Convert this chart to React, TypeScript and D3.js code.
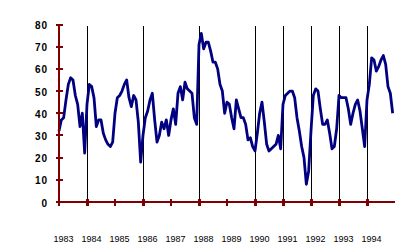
import React from "react";
import * as d3 from "d3";

const startYear = 1983;
const values: number[] = [
  32, 37, 38, 46, 53, 56, 55, 48, 44, 34, 40, 22,
  44, 53, 52, 47, 34, 37, 37, 31, 28, 26, 25, 27,
  40, 47, 48, 50, 53, 55, 47, 43, 48, 46, 36, 18,
  30, 38, 41, 46, 49, 37, 27, 30, 36, 33, 37, 30,
  37, 42, 35, 49, 52, 46, 54, 51, 50, 49, 38, 35,
  71, 76, 69, 72, 72, 68, 63, 63, 60, 53, 50, 40,
  45, 44, 38, 33, 46, 42, 38, 38, 35, 28, 29, 25,
  23, 31, 40, 45, 36, 26, 23, 24, 25, 26, 30, 24,
  44, 48, 49, 50, 50, 47, 38, 32, 25, 20, 8, 14,
  32, 48, 51, 50, 42, 35, 35, 37, 31, 24, 25, 33,
  48, 47, 47, 47, 42, 35, 40, 44, 46, 41, 33, 25,
  46, 53, 65, 64, 59, 61, 64, 66, 62, 52, 49, 40,
];
const yearLabels: string[] = [
  "1983", "1984", "1985", "1986", "1987", "1988",
  "1989", "1990", "1991", "1992", "1993", "1994",
];
const markerYears: number[] = [1984, 1986, 1988, 1990, 1991, 1992, 1993, 1994];
const yTicks: number[] = [0, 10, 20, 30, 40, 50, 60, 70, 80];

export default function App() {
  const W = 420, H = 246;
  const x = d3.scaleLinear().domain([1983, 1995]).range([59, 395]);
  const y = d3.scaleLinear().domain([0, 80]).range([202, 24.5]);
  const line = d3
    .line<number>()
    .x((_, i) => x(startYear + i / 12))
    .y((d) => y(d));
  const red = "#800000";
  const tickYears = yearLabels.map((_, i) => startYear + i);
  return (
    <svg
      width={W}
      height={H}
      style={{ position: "absolute", left: 0, top: 0, background: "#fff" }}
    >
      {markerYears.map((yr) => (
        <line
          key={"m" + yr}
          x1={Math.round(x(yr)) + 0.5}
          x2={Math.round(x(yr)) + 0.5}
          y1={26}
          y2={y(0)}
          stroke="#000"
          strokeWidth={1}
          shapeRendering="crispEdges"
        />
      ))}
      <path d={line(values) || ""} fill="none" stroke="#000080" strokeWidth={2.8} strokeLinejoin="round" />
      <line x1={x(1983)} x2={x(1983)} y1={y(80)} y2={y(0)} stroke={red} strokeWidth={2} shapeRendering="crispEdges" />
      <line x1={x(1983)} x2={x(1995)} y1={y(0)} y2={y(0)} stroke={red} strokeWidth={2} shapeRendering="crispEdges" />
      {yTicks.map((v) => (
        <g key={"y" + v}>
          <line x1={55.5} x2={62.5} y1={y(v)} y2={y(v)} stroke={red} strokeWidth={2} shapeRendering="crispEdges" />
          <text
            x={48}
            y={y(v) + 4.5}
            textAnchor="end"
            fontFamily="Liberation Sans, Arial, sans-serif"
            fontSize={10}
            fontWeight="bold"
            letterSpacing={1}
            fill="#000"
          >
            {v}
          </text>
        </g>
      ))}
      {tickYears.map((yr, i) => (
        <g key={"x" + yr}>
          <line
            x1={x(yr)}
            x2={x(yr)}
            y1={199}
            y2={205.5}
            stroke={red}
            strokeWidth={markerYears.includes(yr) ? 3 : 2}
            shapeRendering="crispEdges"
          />
          <text
            x={x(yr) + 4.5}
            y={242}
            textAnchor="middle"
            fontFamily="Liberation Sans, Arial, sans-serif"
            fontSize={9}
            fill="#000"
          >
            {yearLabels[i]}
          </text>
        </g>
      ))}
    </svg>
  );
}
